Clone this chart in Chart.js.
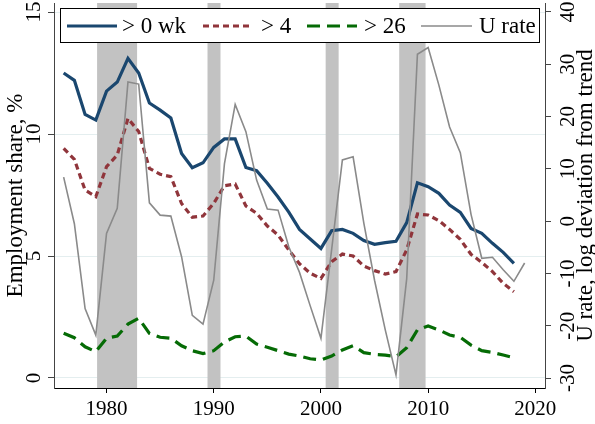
<!DOCTYPE html>
<html>
<head>
<meta charset="utf-8">
<script src="https://cdn.jsdelivr.net/npm/chart.js@4.4.0/dist/chart.umd.min.js"></script>
<style>
  html, body { margin: 0; padding: 0; background: #fff; }
  #wrap { width: 595px; height: 424px; }
</style>
</head>
<body>
<div id="wrap"><canvas id="chart" width="595" height="424"></canvas></div>
<script>
// years for employment shares (1976-2018) and for the unemployment rate (1976-2019)
var years = [1976, 1977, 1978, 1979, 1980, 1981, 1982, 1983, 1984, 1985, 1986, 1987, 1988, 1989, 1990,
             1991, 1992, 1993, 1994, 1995, 1996, 1997, 1998, 1999, 2000, 2001, 2002, 2003, 2004, 2005,
             2006, 2007, 2008, 2009, 2010, 2011, 2012, 2013, 2014, 2015, 2016, 2017, 2018];
var uYears = [1976, 1977, 1978, 1979, 1980, 1981, 1982, 1983, 1984, 1985, 1986, 1987, 1988, 1989, 1990,
              1991, 1992, 1993, 1994, 1995, 1996, 1997, 1998, 1999, 2000, 2001, 2002, 2003, 2004, 2005,
              2006, 2007, 2008, 2009, 2010, 2011, 2012, 2013, 2014, 2015, 2016, 2017, 2018, 2019];

// employment share, %
var share0 = [12.5, 12.2, 10.8, 10.57, 11.76, 12.13, 13.1, 12.5, 11.27, 10.98, 10.66, 9.2, 8.62, 8.82, 9.45,
              9.8, 9.8, 8.63, 8.5, 7.98, 7.42, 6.8, 6.09, 5.7, 5.31, 6.04, 6.09, 5.93, 5.63, 5.48,
              5.55, 5.6, 6.37, 8.0, 7.84, 7.57, 7.09, 6.79, 6.13, 5.93, 5.52, 5.15, 4.7];
var share4 = [9.41, 8.96, 7.7, 7.43, 8.66, 9.14, 10.64, 10.1, 8.59, 8.35, 8.25, 7.15, 6.59, 6.64, 7.16,
              7.88, 7.95, 7.05, 6.75, 6.23, 5.86, 5.25, 4.68, 4.29, 4.08, 4.77, 5.08, 5.0, 4.59, 4.4,
              4.26, 4.36, 5.25, 6.72, 6.68, 6.45, 6.09, 5.68, 5.07, 4.74, 4.36, 3.88, 3.54];
var share26 = [1.83, 1.65, 1.28, 1.08, 1.63, 1.72, 2.21, 2.45, 1.83, 1.67, 1.63, 1.32, 1.12, 1.0, 1.12,
               1.48, 1.69, 1.72, 1.39, 1.26, 1.12, 0.98, 0.9, 0.79, 0.74, 0.9, 1.15, 1.32, 1.04, 0.97,
               0.94, 0.87, 1.24, 1.97, 2.13, 1.97, 1.76, 1.67, 1.35, 1.12, 1.05, 0.94, 0.83];
// unemployment rate, log deviation from trend
var urate = [8.4, -0.5, -16.7, -21.8, -2.35, 2.43, 26.6, 26.2, 3.5, 1.15, 0.96, -6.8, -18.0, -19.7, -11.3,
             11.0, 22.3, 17.1, 7.84, 2.3, 2.1, -4.9, -9.8, -16.2, -22.4, -5.4, 11.7, 12.3, -0.4, -11.3,
             -20.8, -29.4, -11.0, 31.9, 33.2, 26.0, 18.0, 13.1, 1.3, -7.1, -6.9, -9.3, -11.5, -8.0];

// recession bands
var recessionStart = [1979.12, 1989.42, 2000.44, 2007.3];
var recessionEnd = [1982.85, 1990.63, 2001.65, 2009.76];

var seriesLabels = ['> 0 wk', '> 4', '> 26', 'U rate'];
var xTicks = [1980, 1990, 2000, 2010, 2020];
var leftTicks = [0, 5, 10, 15];
var rightTicks = [-30, -20, -10, 0, 10, 20, 30, 40];

function pts(xs, ys) {
  return ys.map(function (v, i) { return { x: xs[i], y: v }; });
}
function fixedTicks(list) {
  return function (scale) {
    scale.ticks = list.map(function (v) { return { value: v }; });
  };
}

var serif = '"Liberation Serif", "Times New Roman", serif';

var recessionPlugin = {
  id: 'recessions',
  beforeDatasetsDraw: function (chart) {
    var ctx = chart.ctx, a = chart.chartArea, x = chart.scales.x;
    ctx.save();
    ctx.fillStyle = '#c2c2c2';
    for (var i = 0; i < recessionStart.length; i++) {
      var x0 = x.getPixelForValue(recessionStart[i]);
      var x1 = x.getPixelForValue(recessionEnd[i]);
      ctx.fillRect(x0, a.top, x1 - x0, a.bottom - a.top);
    }
    ctx.restore();
  }
};

var decorPlugin = {
  id: 'decor',
  afterDraw: function (chart) {
    var ctx = chart.ctx, a = chart.chartArea;
    ctx.save();
    // axis titles (both read bottom to top)
    ctx.fillStyle = '#000';
    ctx.font = '23px ' + serif;
    ctx.textAlign = 'center';
    ctx.textBaseline = 'middle';
    ctx.save();
    ctx.translate(16, (a.top + a.bottom) / 2);
    ctx.rotate(-Math.PI / 2);
    ctx.fillText('Employment share, %', 0, 0);
    ctx.restore();
    ctx.save();
    ctx.translate(586, (a.top + a.bottom) / 2);
    ctx.rotate(-Math.PI / 2);
    ctx.fillText('U rate, log deviation from trend', 0, 0);
    ctx.restore();

    // legend box
    var bx = a.left + 6, by = 8, bw = 540 - bx, bh = 35;
    ctx.fillStyle = '#fff';
    ctx.fillRect(bx, by, bw, bh);
    ctx.strokeStyle = '#000';
    ctx.lineWidth = 1;
    ctx.strokeRect(bx + 0.5, by + 0.5, bw - 1, bh - 1);
    var items = [
      { x0: 67, x1: 117, tx: 122 },
      { x0: 203, x1: 253, tx: 261 },
      { x0: 307, x1: 357, tx: 364 },
      { x0: 421, x1: 472, tx: 479 }
    ];
    var cy = by + bh / 2 + 0.5;
    ctx.font = '23px ' + serif;
    ctx.textAlign = 'left';
    items.forEach(function (it, i) {
      var ds = chart.data.datasets[i];
      ctx.save();
      ctx.strokeStyle = ds.borderColor;
      ctx.lineWidth = ds.borderWidth;
      ctx.setLineDash(ds.borderDash || []);
      ctx.lineCap = 'butt';
      ctx.beginPath();
      ctx.moveTo(it.x0, cy);
      ctx.lineTo(it.x1, cy);
      ctx.stroke();
      ctx.restore();
      ctx.fillStyle = '#000';
      ctx.fillText(seriesLabels[i], it.tx, cy + 1);
    });
    ctx.restore();
  }
};

new Chart(document.getElementById('chart'), {
  type: 'line',
  data: {
    datasets: [
      { label: seriesLabels[0], data: pts(years, share0), yAxisID: 'y', borderColor: '#1a476f', borderWidth: 3.2, order: 4 },
      { label: seriesLabels[1], data: pts(years, share4), yAxisID: 'y', borderColor: '#90353b', borderWidth: 3.2, borderDash: [6, 4], order: 3 },
      { label: seriesLabels[2], data: pts(years, share26), yAxisID: 'y', borderColor: '#056b05', borderWidth: 3.2, borderDash: [13, 7], order: 2 },
      { label: seriesLabels[3], data: pts(uYears, urate), yAxisID: 'y2', borderColor: '#8a8a8a', borderWidth: 1.6, order: 1 }
    ]
  },
  options: {
    responsive: false,
    animation: false,
    devicePixelRatio: 1,
    layout: { padding: { top: 3, left: 0, right: 0, bottom: 0 } },
    elements: { point: { radius: 0 }, line: { tension: 0, fill: false } },
    plugins: { legend: { display: false }, tooltip: { enabled: false } },
    scales: {
      x: {
        type: 'linear', min: 1975.1, max: 2020.9,
        afterBuildTicks: fixedTicks(xTicks),
        ticks: { font: { family: serif, size: 21 }, color: '#000', padding: 4, maxRotation: 0, autoSkip: false,
                 callback: function (v) { return String(v); } },
        grid: { drawOnChartArea: false, tickLength: 5, tickColor: '#000' },
        border: { color: '#000', width: 1, z: 1 },
        afterFit: function (s) { s.height = 36; s.paddingLeft = 0; s.paddingRight = 0; }
      },
      y: {
        position: 'left', min: -0.41, max: 15.37,
        afterBuildTicks: fixedTicks(leftTicks),
        ticks: { font: { family: serif, size: 21 }, color: '#000', minRotation: 90, maxRotation: 90,
                 crossAlign: 'center', padding: 3, callback: function (v) { return String(v); } },
        grid: { color: '#e4eeef', tickColor: '#444', tickLength: 6 },
        border: { color: '#444', width: 1, z: 1 },
        afterFit: function (s) { s.width = 54; s.paddingTop = 0; s.paddingBottom = 0; }
      },
      y2: {
        position: 'right', min: -31.9, max: 41.7,
        afterBuildTicks: fixedTicks(rightTicks),
        ticks: { font: { family: serif, size: 21 }, color: '#000', minRotation: 90, maxRotation: 90,
                 crossAlign: 'center', padding: 3, callback: function (v) { return String(v); } },
        grid: { drawOnChartArea: false, tickColor: '#444', tickLength: 6 },
        border: { color: '#444', width: 1, z: 1 },
        afterFit: function (s) { s.width = 50; s.paddingTop = 0; s.paddingBottom = 0; }
      }
    }
  },
  plugins: [recessionPlugin, decorPlugin]
});
</script>
</body>
</html>
